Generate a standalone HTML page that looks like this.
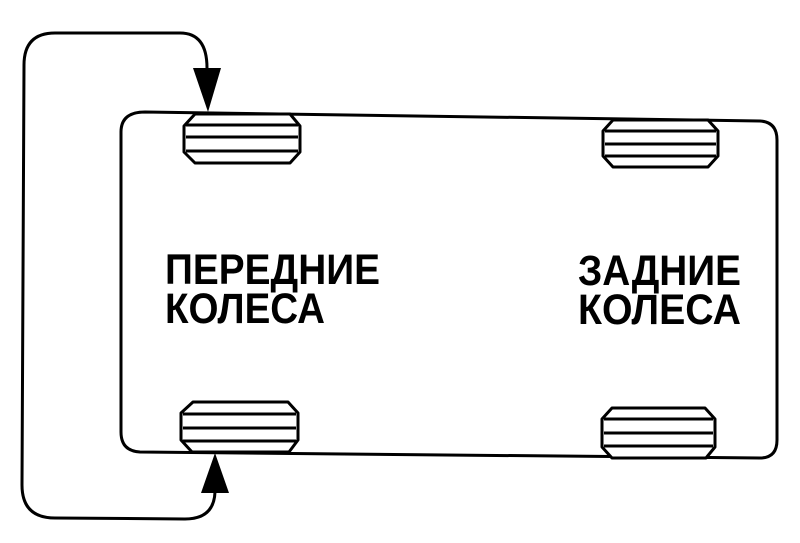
<!DOCTYPE html>
<html><head><meta charset="utf-8"><style>html,body{margin:0;padding:0;background:#fff}svg{display:block}</style></head>
<body>
<svg width="800" height="543" viewBox="0 0 800 543" xmlns="http://www.w3.org/2000/svg">
<g fill="none" stroke="#000" stroke-width="3" stroke-linejoin="round">
<!-- body -->
<path d="M145,112 L760,121 Q777,122 777,140 L777,440 Q777,458 760,458 L140,452 Q121,451 121,432 L121,132 Q121,112 145,112 Z"/>
<!-- loop -->
<path d="M207,68 Q207,33 180,33 L55,33 Q24,33 24,65 L22,485 Q22,518 55,518 L185,519 Q214,519 215,492"/>
</g>
<!-- arrows -->
<polygon points="193,68 221,68 208,112" fill="#000"/>
<polygon points="201,493 229,493 215,453" fill="#000"/>
<!-- wheels -->
<g fill="#fff" stroke="#000" stroke-width="3" stroke-linejoin="round">
<path d="M195,114 L290,114 L300,126 L300,152 L290,163 L195,163 L184,152 L184,126 Z"/>
<path d="M193,402 L288,402 L298,413 L298,440 L289,452 L192,452 L181,440 L181,413 Z"/>
<path d="M613,120 L708,120 L718,131 L718,156 L708,167 L613,167 L603,156 L603,131 Z"/>
<path d="M612,408 L705,408 L715,419 L715,447 L706,458 L612,458 L602,447 L602,419 Z"/>
</g>
<g stroke="#000" stroke-width="3">
<line x1="186" y1="125" x2="298" y2="125"/><line x1="186" y1="137" x2="298" y2="137"/><line x1="186" y1="151" x2="298" y2="151"/>
<line x1="183" y1="414" x2="296" y2="414"/><line x1="183" y1="428" x2="296" y2="428"/><line x1="183" y1="441" x2="296" y2="441"/>
<line x1="605" y1="131" x2="716" y2="131"/><line x1="605" y1="144" x2="716" y2="144"/><line x1="605" y1="156" x2="716" y2="156"/>
<line x1="604" y1="419" x2="713" y2="419"/><line x1="604" y1="433" x2="713" y2="433"/><line x1="604" y1="446" x2="713" y2="446"/>
</g>
<g font-family="Liberation Sans, sans-serif" font-weight="bold" font-size="43" fill="#000">
<text x="165" y="284" textLength="215" lengthAdjust="spacingAndGlyphs">ПЕРЕДНИЕ</text>
<text x="165" y="323" textLength="160" lengthAdjust="spacingAndGlyphs">КОЛЕСА</text>
<text x="578" y="285" textLength="163" lengthAdjust="spacingAndGlyphs">ЗАДНИЕ</text>
<text x="578" y="324" textLength="163" lengthAdjust="spacingAndGlyphs">КОЛЕСА</text>
</g>
</svg>
</body></html>
